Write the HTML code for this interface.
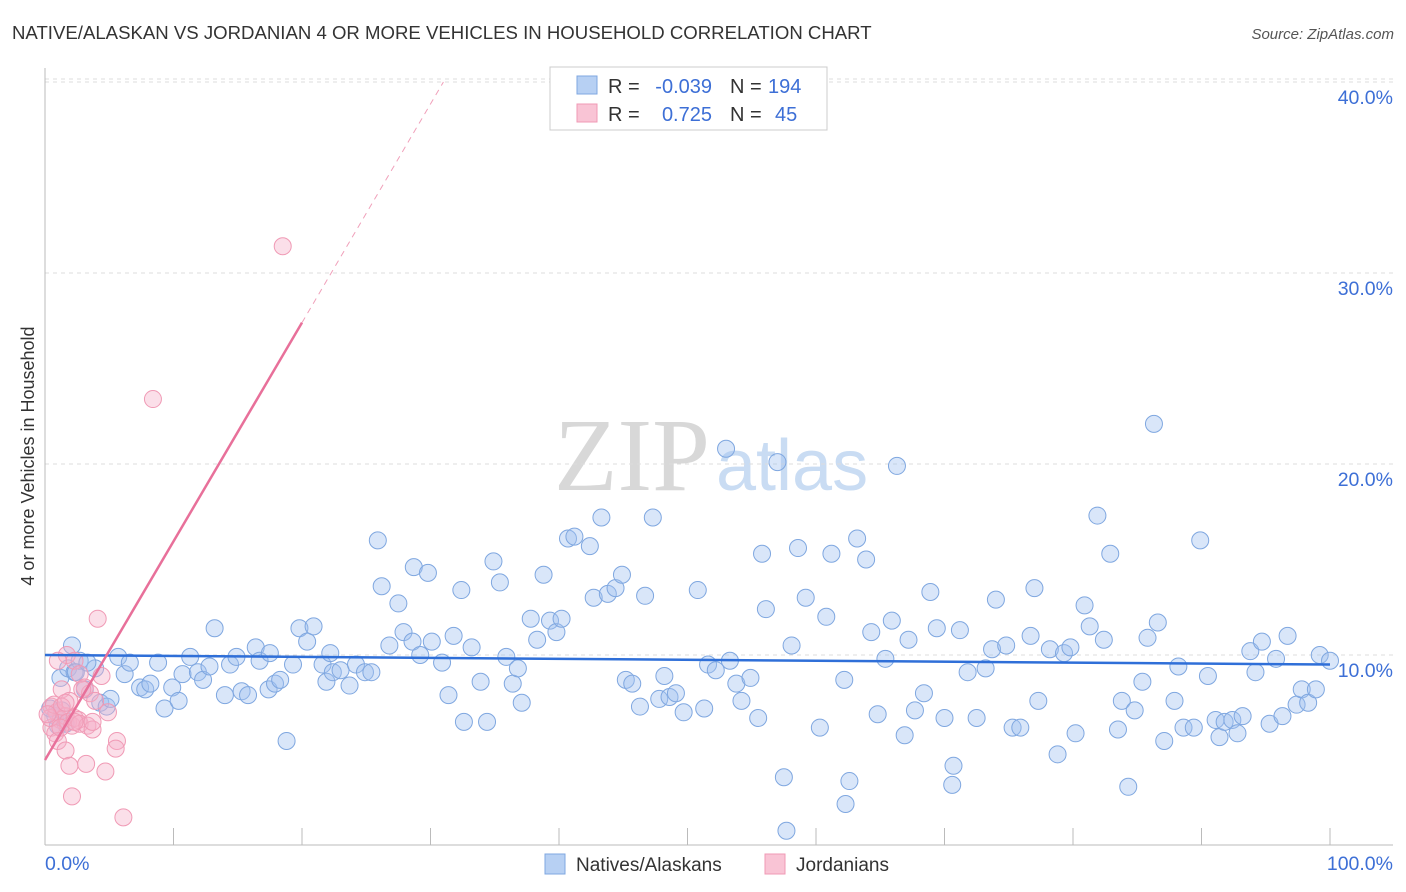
<!DOCTYPE html>
<html><head><meta charset="utf-8">
<style>
body{margin:0;background:#fff;font-family:"Liberation Sans",sans-serif;}
#wrap{position:relative;width:1406px;height:892px;overflow:hidden;}
</style></head>
<body>
<div id="wrap">
<svg id="svg" width="1406" height="892" xmlns="http://www.w3.org/2000/svg">
<text x="12" y="39" font-size="18.6" fill="#333">NATIVE/ALASKAN VS JORDANIAN 4 OR MORE VEHICLES IN HOUSEHOLD CORRELATION CHART</text>
<text x="1394" y="39" font-size="15" fill="#555" font-style="italic" text-anchor="end">Source: ZipAtlas.com</text>
<text x="554" y="490" font-size="104" fill="#d8d8d8" font-family="Liberation Serif,serif">ZIP</text>
<text x="716" y="490" font-size="72" fill="#c9dcf3">atlas</text>
<text transform="translate(34,456) rotate(-90)" font-size="18" fill="#333" text-anchor="middle">4 or more Vehicles in Household</text>
<g id="grid"></g><g id="marks"></g>
<g>
<rect x="550" y="67" width="277" height="63" fill="#fff" stroke="#ccc"/>
<rect x="577" y="76" width="20" height="18" fill="#b7d0f3" stroke="#7fa7e0"/>
<rect x="577" y="104" width="20" height="18" fill="#f9c4d5" stroke="#f09ab5"/>
<text x="608" y="93" font-size="20" fill="#333">R =</text>
<text x="712" y="93" font-size="20" fill="#3d6fd6" text-anchor="end">-0.039</text>
<text x="730" y="93" font-size="20" fill="#333">N =</text>
<text x="768" y="93" font-size="20" fill="#3d6fd6">194</text>
<text x="608" y="121" font-size="20" fill="#333">R =</text>
<text x="712" y="121" font-size="20" fill="#3d6fd6" text-anchor="end">0.725</text>
<text x="730" y="121" font-size="20" fill="#333">N =</text>
<text x="775" y="121" font-size="20" fill="#3d6fd6">45</text>
</g>
<g>
<rect x="545" y="854" width="20" height="20" fill="#b7d0f3" stroke="#7fa7e0"/>
<text x="576" y="871" font-size="19" fill="#333">Natives/Alaskans</text>
<rect x="765" y="854" width="20" height="20" fill="#f9c4d5" stroke="#f09ab5"/>
<text x="796" y="871" font-size="19" fill="#333">Jordanians</text>
</g>
</svg>
</div>
<script>
const yTicks=[10,20,30,40];
const yTickLabels=["10.0%","20.0%","30.0%","40.0%"];
const xTickVals=[0,10,20,30,40,50,60,70,80,90,100];
const xEndLabels=["0.0%","100.0%"];
const blueX=[1.2,1.8,2.3,2.7,3.1,3.9,4.3,4.8,5.7,6.2,6.6,7.4,7.8,8.2,8.8,9.3,9.9,10.4,10.7,11.3,11.9,12.3,12.8,13.2,14.0,14.4,14.9,15.3,15.8,16.4,16.7,17.4,17.9,18.3,18.8,19.3,19.8,20.4,20.9,21.6,21.9,22.2,22.4,23.0,23.7,24.2,24.9,25.4,25.9,26.2,26.8,27.5,27.9,28.6,28.7,29.2,29.8,30.1,30.9,31.4,31.8,32.4,32.6,33.2,33.9,34.4,34.9,35.4,35.9,36.4,36.8,37.1,37.8,38.3,38.8,39.3,39.8,40.2,40.7,41.2,42.4,42.7,43.3,43.8,44.4,44.9,45.2,45.7,46.3,46.7,47.3,47.8,48.2,48.6,49.1,49.7,50.8,51.3,51.6,52.2,53.0,53.3,53.8,54.2,54.9,55.5,55.8,56.1,57.0,57.5,57.7,58.1,58.6,59.2,60.3,60.8,61.2,62.2,62.3,62.6,63.2,63.9,64.3,64.8,65.4,65.9,66.3,66.9,67.2,67.7,68.4,68.9,69.4,70.0,70.6,70.7,71.2,71.8,72.5,73.2,73.7,74.0,74.8,75.3,75.9,76.7,77.0,77.3,78.2,78.8,79.3,79.8,80.2,80.9,81.3,81.9,82.4,82.9,83.5,83.8,84.3,84.8,85.4,85.8,86.3,86.6,87.1,87.9,88.2,88.6,89.4,89.9,90.5,91.1,91.4,91.8,92.4,92.8,93.2,93.8,94.2,94.7,95.3,95.8,96.3,96.7,97.4,97.8,98.3,98.9,99.2,100,0.4,0.8,1.0,1.3,1.6,2.1,2.4,3.3,5.1,17.5];
const blueY=[8.8,9.3,9.1,9.7,8.2,9.3,7.5,7.3,9.9,9.0,9.6,8.3,8.2,8.5,9.6,7.2,8.3,7.6,9.0,9.9,9.1,8.7,9.4,11.4,7.9,9.5,9.9,8.1,7.9,10.4,9.7,8.2,8.5,8.7,5.5,9.5,11.4,10.7,11.5,9.5,8.6,10.1,9.1,9.2,8.4,9.5,9.1,9.1,16.0,13.6,10.5,12.7,11.2,10.7,14.6,10.0,14.3,10.7,9.6,7.9,11.0,13.4,6.5,10.4,8.6,6.5,14.9,13.8,9.9,8.5,9.3,7.5,11.9,10.8,14.2,11.8,11.2,11.9,16.1,16.2,15.7,13.0,17.2,13.2,13.5,14.2,8.7,8.5,7.3,13.1,17.2,7.7,8.9,7.8,8.0,7.0,13.4,7.2,9.5,9.2,20.8,9.7,8.5,7.6,8.8,6.7,15.3,12.4,20.1,3.6,0.8,10.5,15.6,13.0,6.2,12.0,15.3,8.7,2.2,3.4,16.1,15.0,11.2,6.9,9.8,11.8,19.9,5.8,10.8,7.1,8.0,13.3,11.4,6.7,3.2,4.2,11.3,9.1,6.7,9.3,10.3,12.9,10.5,6.2,6.2,11.0,13.5,7.6,10.3,4.8,10.1,10.4,5.9,12.6,11.5,17.3,10.8,15.3,6.1,7.6,3.1,7.1,8.6,10.9,22.1,11.7,5.5,7.6,9.4,6.2,6.2,16.0,8.9,6.6,5.7,6.5,6.6,5.9,6.8,10.2,9.1,10.7,6.4,9.8,6.8,11.0,7.4,8.2,7.5,8.2,10.0,9.7,7.2,6.8,6.3,7.1,6.4,10.5,9.1,9.6,7.7,10.1];
const pinkX=[18.5,8.4,4.1,1.7,2.3,1.0,1.3,1.9,2.7,3.1,3.5,3.9,4.4,4.9,0.5,0.9,1.2,1.6,1.8,2.1,2.3,2.6,2.7,3.3,3.7,0.5,0.8,1.0,1.6,1.9,2.1,3.2,4.7,5.6,5.5,6.1,0.4,0.7,1.3,0.2,1.2,1.6,2.3,2.9,3.7];
const pinkY=[31.4,23.4,11.9,10.0,9.7,9.7,8.2,7.6,9.0,8.3,8.0,7.6,8.9,7.0,7.3,7.0,6.6,6.8,6.5,6.3,6.7,6.6,6.4,6.3,6.1,6.2,5.9,5.5,5.0,4.2,2.6,4.3,3.9,5.5,5.1,1.5,6.7,7.4,7.3,6.9,6.2,7.5,6.5,8.2,6.5];
const blueTrend=[10.0,9.5];
const pinkTrend=[4.5,27.4];

const L=45,R=1330,B=846,PX=(R-L)/100,PY=19.1;
const sx=v=>L+v*PX, sy=v=>B-v*PY;
const NS="http://www.w3.org/2000/svg";
function mk(tag,attrs,parent){const e=document.createElementNS(NS,tag);for(const k in attrs)e.setAttribute(k,attrs[k]);parent.appendChild(e);return e;}
const grid=document.getElementById('grid'),marks=document.getElementById('marks');
yTicks.forEach((t,i)=>{
 const g=mk('line',{x1:L,x2:1393,y1:sy(t),y2:sy(t),stroke:'#ddd','stroke-dasharray':'4,4'},grid);
 
 
 const tx=mk('text',{x:1393,y:sy(t)+22,'font-size':19.5,fill:'#3d6fd6','text-anchor':'end'},grid);
 tx.textContent=yTickLabels[i];
 
 
});
const tg=mk('line',{x1:L,x2:1393,y1:79,y2:79,stroke:'#ddd','stroke-dasharray':'4,4'},grid);


const ya=mk('line',{x1:L,x2:L,y1:68,y2:845,stroke:'#bbb'},grid);


const xa=mk('line',{x1:L,x2:1393,y1:845,y2:845,stroke:'#bbb'},grid);


xTickVals.forEach(t=>{
 const k=mk('line',{x1:sx(t),x2:sx(t),y1:828,y2:845,stroke:'#bbb'},grid);
 
 
});
[[0,'start'],[100,'end']].forEach((p,i)=>{
 const tx=mk('text',{x:i?1393:45,y:870,'font-size':19.5,fill:'#3d6fd6','text-anchor':p[1]},grid);
 tx.textContent=xEndLabels[i];
 
 
});
blueX.forEach((x,i)=>{
 const c=mk('circle',{cx:sx(x),cy:sy(blueY[i]),r:8.5,fill:'rgba(160,192,240,0.4)',stroke:'#7fa7e0','stroke-width':1},marks);
 
 
});
pinkX.forEach((x,i)=>{
 const c=mk('circle',{cx:sx(x),cy:sy(pinkY[i]),r:8.5,fill:'rgba(246,175,199,0.4)',stroke:'#f09ab5','stroke-width':1},marks);
 
 
});
const bl=mk('line',{x1:sx(0),x2:sx(100),y1:sy(blueTrend[0]),y2:sy(blueTrend[1]),stroke:'#2f6fd8','stroke-width':2.5},marks);


const ps=(pinkTrend[1]-pinkTrend[0])/20;
const pl=mk('line',{x1:sx(0),x2:sx(20),y1:sy(pinkTrend[0]),y2:sy(pinkTrend[1]),stroke:'#e8709a','stroke-width':2.5},marks);


const xEnd=(40-pinkTrend[0])/ps;
const pd=mk('line',{x1:sx(20),x2:sx(xEnd),y1:sy(pinkTrend[1]),y2:sy(40),stroke:'#f0a0ba','stroke-width':1,'stroke-dasharray':'6,5'},marks);


</script>
</body></html>
